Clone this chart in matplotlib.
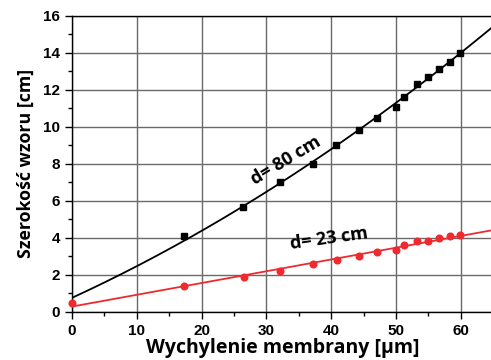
import numpy as np
import matplotlib
matplotlib.use("Agg")
import matplotlib.pyplot as plt
from matplotlib.ticker import MultipleLocator

# wychylenie membrany [um] and szerokosc wzoru [cm]
x_80 = [17.3, 26.4, 32.1, 37.2, 40.8, 44.3, 47.1, 50.0, 51.3, 53.2, 54.9, 56.6, 58.3, 59.9]
y_80 = [4.09, 5.68, 7.0, 7.98, 9.0, 9.82, 10.49, 11.08, 11.59, 12.29, 12.67, 13.15, 13.5, 14.0]

x_23 = [0.0, 17.3, 26.5, 32.1, 37.2, 40.9, 44.3, 47.1, 50.0, 51.3, 53.2, 54.9, 56.6, 58.3, 59.9]
y_23 = [0.45, 1.39, 1.89, 2.2, 2.6, 2.79, 3.01, 3.21, 3.34, 3.6, 3.8, 3.84, 3.98, 4.07, 4.13]

label_font = "Open Sans"
red = "#ee2a2f"

fig = plt.figure(figsize=(4.91, 3.6), dpi=100)
ax = fig.add_axes([0.1466, 0.134, 0.858, 0.822])

# fitted curves from the measured points
xs = np.linspace(0, 65, 200)
c80 = np.polyfit([0.0] + x_80, [0.65] + y_80, 2)
c23 = np.polyfit(x_23, y_23, 1)
ax.plot(xs, np.polyval(c80, xs), color="black", lw=1.3, zorder=3)
ax.plot(xs, np.polyval(c23, xs), color=red, lw=1.3, zorder=3)

ax.plot(x_80, y_80, "s", color="black", ms=4.3, zorder=4)
ax.plot(x_23, y_23, "o", color=red, ms=4.8, zorder=4, clip_on=False)

ax.set_xlim(0, 65)
ax.set_ylim(0, 16)
ax.xaxis.set_major_locator(MultipleLocator(10))
ax.xaxis.set_minor_locator(MultipleLocator(5))
ax.yaxis.set_major_locator(MultipleLocator(2))
ax.yaxis.set_minor_locator(MultipleLocator(1))
ax.grid(True, which="major", color="#6a6a6a", lw=1.0)
ax.set_axisbelow(True)

ax.tick_params(which="both", direction="out", width=1)
ax.tick_params(which="major", length=5, labelsize=11)
ax.tick_params(which="minor", length=3)
for lab in ax.get_xticklabels() + ax.get_yticklabels():
    lab.set_fontweight("bold")
    lab.set_family("Liberation Sans")
for s in ax.spines.values():
    s.set_linewidth(1.0)

ax.set_xlabel("Wychylenie membrany [µm]", family=label_font, fontweight="bold",
              fontsize=14, labelpad=0)
ax.set_ylabel("Szerokość wzoru [cm]", family=label_font, fontweight="bold",
              fontsize=12.8, labelpad=6)

ax.text(33.0, 8.15, "d= 80 cm", family=label_font, fontweight="bold", fontsize=13,
        rotation=31, ha="center", va="center")
ax.text(39.6, 3.95, "d= 23 cm", family=label_font, fontweight="bold", fontsize=13,
        rotation=8, ha="center", va="center")

fig.savefig("out.png", dpi=100)
